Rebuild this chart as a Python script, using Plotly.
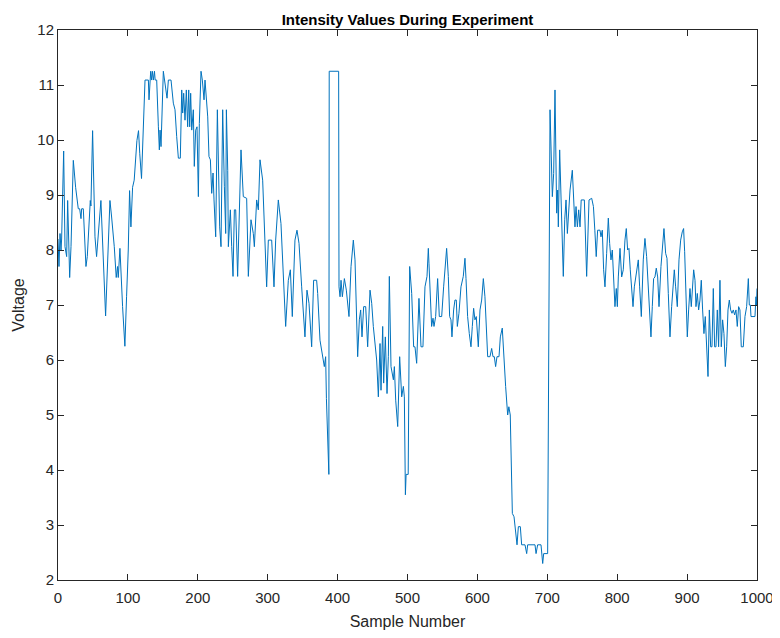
import plotly.graph_objects as go

sample_number = [
    0, 1.4, 2.9, 4.3, 5.2, 8.1, 10, 12.4, 13.8, 16.7, 18.6, 21.9, 25.2, 29, 31, 32.9, 33.8, 36.2,
    40, 41.9, 46.2, 47.1, 49.5, 52.9, 55.2, 57.6, 61.4, 68.1, 74.3, 76.7, 80.5, 83.3, 85.2, 86.2,
    88.6, 92.4, 95.7, 98.1, 100.5, 102.4, 104.3, 106.7, 109, 112.9, 115.2, 117, 119.5,
    124.5, 129.3, 130.2, 132.6, 134, 135, 136.5, 138, 139, 141.2, 143.6, 145, 146, 147.4, 150.7,
    153.1, 156, 157.9, 161.7, 165, 167.4, 169.8, 172.2, 175, 177, 178.4, 179.8, 181.7, 183.6,
    185.5, 187, 188.4, 189.8, 191.3, 193.6, 195, 197, 198.9, 200.8, 202.2, 204.6, 206.5, 208.9,
    210.3, 212.2, 214.2, 216, 218, 219.9, 221.8, 223.2, 225.6, 228, 229.4, 231.3, 233.2, 235.6,
    238, 239.9, 240.9, 242.8, 243.7, 246.6, 248.5, 250.4, 252.3,
    254.2, 257, 261.8, 265.1, 269.9, 272.3, 276.1, 279.4, 280.9, 284.2, 286.6, 289, 291.3, 292.8,
    298.5, 300.9, 305.7, 309, 311.4, 315.2, 319, 320.9, 323.8, 325.7, 329.5, 332.4, 335.2, 339,
    341.9, 344.8, 348.6, 353.3, 356.2, 359.1, 362.9, 365.7, 370, 371.5, 374.8, 378.1, 381, 382.9,
    384, 387.5, 388, 401.5,
    402, 403.5, 404.9, 406.8, 409.7, 412.5, 416.3, 419.2, 422.5, 424.9, 426.8, 428.7, 431.1, 433,
    434.9, 437.3, 440.2, 443, 446.4, 448.8, 451.1, 453.5, 455.9, 458.3, 460.7, 462.1, 464.5, 465.9,
    468.3, 470.7, 472.6, 474, 476.4, 479.8, 481.2, 483.1, 486, 488.8, 491.7, 494.1, 495.5, 497,
    498, 501, 503.1, 506, 508.8,
    510.7, 513.1, 516.4, 519.3, 522.1, 525, 527.9, 529.8, 530.7, 532.6, 534.5, 536.5, 537.9, 540.3,
    543.1, 545.5, 548.9, 551.7, 553.6, 556, 558.4, 560.3, 562.2, 563.6, 566, 567.9, 569.8, 571.3,
    573.6, 576.5, 579.8, 582.2, 583.7, 586, 588.4, 590.8, 592.7, 594.6, 596.5, 598.4, 601.3, 603.7,
    606.1, 608.5, 610.8, 612.8, 614.7, 618, 620.4, 622.3, 624.2, 626.1, 628, 630.9, 632.8, 635.6,
    637.5, 640.4, 643.3, 645, 647,
    650, 652.4, 654.8, 656.7, 658.6, 661.4, 663.3, 668.1, 670.5, 671.9, 682.4, 683.9, 686.2, 691,
    693.4, 694.8, 700.5, 703.9, 707.2, 709.1, 711, 713.4, 714.8, 715.8, 717.7, 719.1, 721.5, 722.9,
    724.9, 726.8, 728.7, 730.1, 732.5, 735.8, 737.7, 739.6, 741.1, 743, 744.9, 746.8, 748.5, 753,
    756.3, 759.7, 763.5, 766,
    768, 770, 772, 775.4, 776.8, 778.7, 780.6, 782.5, 784.9, 787.3, 789.2, 791.1, 793, 794.9, 796.8,
    798.7, 800.2, 801.6, 804, 806.4, 808.7, 811.1, 813, 814.9, 816.8, 818.7, 820.7, 822.6, 824.5,
    826.4, 828.3, 830.2, 832.1, 834.5, 837.3, 839.7, 842.1, 844.5, 845.9, 848.3, 850.2, 852.1, 854,
    855.9, 857.9, 859.8, 862.6, 865, 866.9, 869.3, 871.2, 873.1, 875.5, 877.9, 879.8, 881.7, 883.6,
    886, 888.4, 890.8, 893.1, 895,
    896.5, 898.4, 900.3, 902.2, 904.1, 906, 907.9, 909.4, 911.3, 912.7, 914.6, 916.5, 918.4, 920.3,
    922.2, 924.1, 926, 928, 929.9, 931.8, 933.7, 935.6, 937.5, 939.4, 941.3, 943.2, 945.1, 947,
    948.9, 950.8, 952.7, 954.7, 956.6, 958.5, 960.4, 962.3, 964.2, 966.1, 968, 969.9, 971.8, 973.7,
    975.6, 977.5, 980.4, 982.8, 985.2, 987.6, 989, 990.5, 991.4, 997.1, 998.5, 999.3, 1000,
]

voltage = [
    8.2, 7.7, 8.3, 8.0, 8.2, 9.8, 8.06, 7.88, 8.9, 7.5, 8.06, 9.63, 9.14, 8.75, 8.75, 8.57, 8.75, 8.75,
    7.7, 7.88, 8.9, 8.8, 10.17, 8.24, 7.88, 8.24, 8.9, 6.8, 8.9, 8.6, 8.06, 7.5, 7.7, 7.5,
    8.03, 6.97, 6.25, 7.15, 8.0, 9.08, 8.42, 9.14, 9.27, 9.99, 10.17, 9.75, 9.3,
    11.09, 11.09, 10.73, 11.25, 11.09, 11.25, 11.09, 11.25, 11.09, 11.09, 10.24, 9.82, 10.18, 9.88, 11.25,
    11.03, 10.76, 11.09, 11.09, 10.67, 10.55, 10.06, 9.67, 9.67, 10.91, 10.49, 10.85, 10.36, 10.91,
    10.24, 10.91, 10.24, 10.85, 10.18, 10.55, 9.52, 10.18, 10.24, 8.97, 10.3, 11.25, 11.09, 10.73,
    11.09, 10.67, 10.42, 9.7, 9.64, 9.03, 9.4, 8.91, 8.24, 10.55, 9.58, 8.42, 8.06, 10.55,
    9.15, 8.3, 10.55, 9.45, 8.06, 8.73, 8.06, 7.52, 8.73,
    8.73, 7.52, 9.82, 8.97, 8.94, 7.52, 8.55, 8.3, 8.06, 8.91, 8.73, 9.64, 9.33, 9.27,
    7.33, 8.18, 8.18, 7.33, 8.18, 8.91, 8.48, 8.0, 7.33, 6.61, 7.45, 7.64, 6.79, 8.18,
    8.36, 8.12, 7.33, 6.42, 7.27, 7.03, 6.24, 7.45, 7.45, 7.21, 6.36, 6.06, 5.88, 6.06,
    5.3, 3.92, 11.25, 11.25,
    7.33, 7.15, 7.45, 7.15, 7.48, 7.27, 6.79, 7.7, 8.18, 7.82, 7.09, 6.06, 6.73, 6.91,
    6.42, 6.97, 6.97, 6.24, 7.27, 7.03, 6.61, 6.24, 6.0, 5.33, 6.3, 5.45, 6.61, 5.58,
    6.42, 5.39, 6.06, 7.52, 5.88, 5.64, 5.88, 5.27, 4.79, 6.06, 5.33, 5.52, 5.33, 3.55,
    3.92, 3.92, 7.7, 7.21, 6.24,
    6.24, 5.94, 7.12, 6.24, 6.24, 7.33, 7.52, 8.03, 7.76, 7.15, 6.61, 6.76, 6.61, 6.79,
    7.48, 6.79, 6.79, 7.33, 7.64, 8.03, 7.52, 6.79, 6.73, 6.42, 6.91, 7.09, 7.09, 6.61,
    6.85, 7.33, 7.52, 7.85, 7.48, 6.79, 6.48, 6.24, 6.61, 6.94, 6.73, 6.79, 6.24, 6.91,
    7.09, 7.48, 7.15, 6.61, 6.06, 6.06, 6.21, 6.06, 6.06, 5.88, 6.06, 6.06, 6.42, 6.58,
    6.06, 5.52, 5.0, 5.15, 5.0,
    3.21, 3.15, 2.79, 2.64, 2.97, 2.97, 2.64, 2.64, 2.48, 2.64, 2.64, 2.48, 2.64, 2.64,
    2.3, 2.48, 2.48, 10.55, 8.97, 9.39, 10.91, 8.67, 9.09, 8.42, 9.82, 9.15, 7.82, 7.52,
    8.55, 8.91, 8.3, 8.67, 9.09, 9.45, 8.79, 8.42, 8.79, 8.42, 8.73, 8.42, 8.91, 8.91,
    7.52, 8.91, 8.94, 8.79,
    8.36, 7.88, 8.36, 8.36, 8.24, 8.36, 7.64, 7.33, 7.94, 8.58, 8.12, 7.82, 8.0, 7.33, 6.97,
    7.3, 6.97, 7.51, 8.03, 7.51, 7.64, 8.18, 8.39, 8.0, 8.03, 7.64, 7.3, 6.97, 7.33,
    7.51, 7.7, 7.82, 7.33, 6.79, 7.82, 8.21, 7.88, 7.33, 6.97, 6.42, 6.97, 7.48, 7.51,
    7.67, 7.51, 6.97, 7.7, 8.12, 8.39, 7.94, 7.85, 7.21, 6.42, 6.97, 7.27, 7.64, 7.33,
    6.97, 7.82, 8.18, 8.33, 8.39,
    7.97, 7.15, 6.42, 6.91, 7.3, 6.97, 7.33, 7.64, 7.45, 6.97, 7.21, 6.91, 7.09, 7.45,
    6.91, 6.48, 6.79, 6.18, 5.7, 6.91, 6.24, 6.24, 7.3, 6.24, 6.24, 6.91, 6.24, 7.45,
    6.24, 6.73, 6.48, 5.88, 6.24, 6.91, 7.09, 6.91, 6.85, 6.91, 6.82, 6.91, 6.61, 6.97,
    6.91, 6.24, 6.24, 6.79, 6.97, 7.48, 7.0, 7.0, 6.79, 6.79, 7.15, 7.0, 7.3,
]

x_ticks = [0, 100, 200, 300, 400, 500, 600, 700, 800, 900, 1000]
y_ticks = [2, 3, 4, 5, 6, 7, 8, 9, 10, 11, 12]

FONT = "Liberation Sans, Arial, sans-serif"

fig = go.Figure()
fig.add_trace(go.Scatter(
    x=sample_number, y=voltage, mode="lines",
    line=dict(color="#0072BD", width=1), showlegend=False,
))

axis_common = dict(
    showgrid=False, zeroline=False, showline=True, linecolor="#262626", linewidth=1,
    mirror="ticks", ticks="inside", ticklen=6, tickcolor="#262626", tickwidth=1,
    automargin=False,
    tickfont=dict(family=FONT, size=15, color="#262626"),
)

# page body has an 8px default margin, so the figure is sized to sit inside the 780x638 window
fig.update_layout(
    width=772, height=630,
    margin=dict(l=50, r=23, t=22, b=58, autoexpand=False),
    paper_bgcolor="white", plot_bgcolor="white",
    title=dict(
        text="<b>Intensity Values During Experiment</b>",
        x=0.5, xref="paper", xanchor="center", y=1, yref="paper", yanchor="bottom",
        pad=dict(b=5), automargin=False,
        font=dict(family=FONT, size=15, color="#000000"),
    ),
    xaxis=dict(
        range=[0, 1000], tickvals=x_ticks, ticklabelstandoff=4,
        title=dict(text="Sample Number", standoff=10,
                   font=dict(family=FONT, size=16, color="#262626")),
        **axis_common,
    ),
    yaxis=dict(
        range=[2, 12], tickvals=y_ticks,
        title=dict(text="Voltage", standoff=8,
                   font=dict(family=FONT, size=16, color="#262626")),
        **axis_common,
    ),
)

fig.write_html("out.html")
